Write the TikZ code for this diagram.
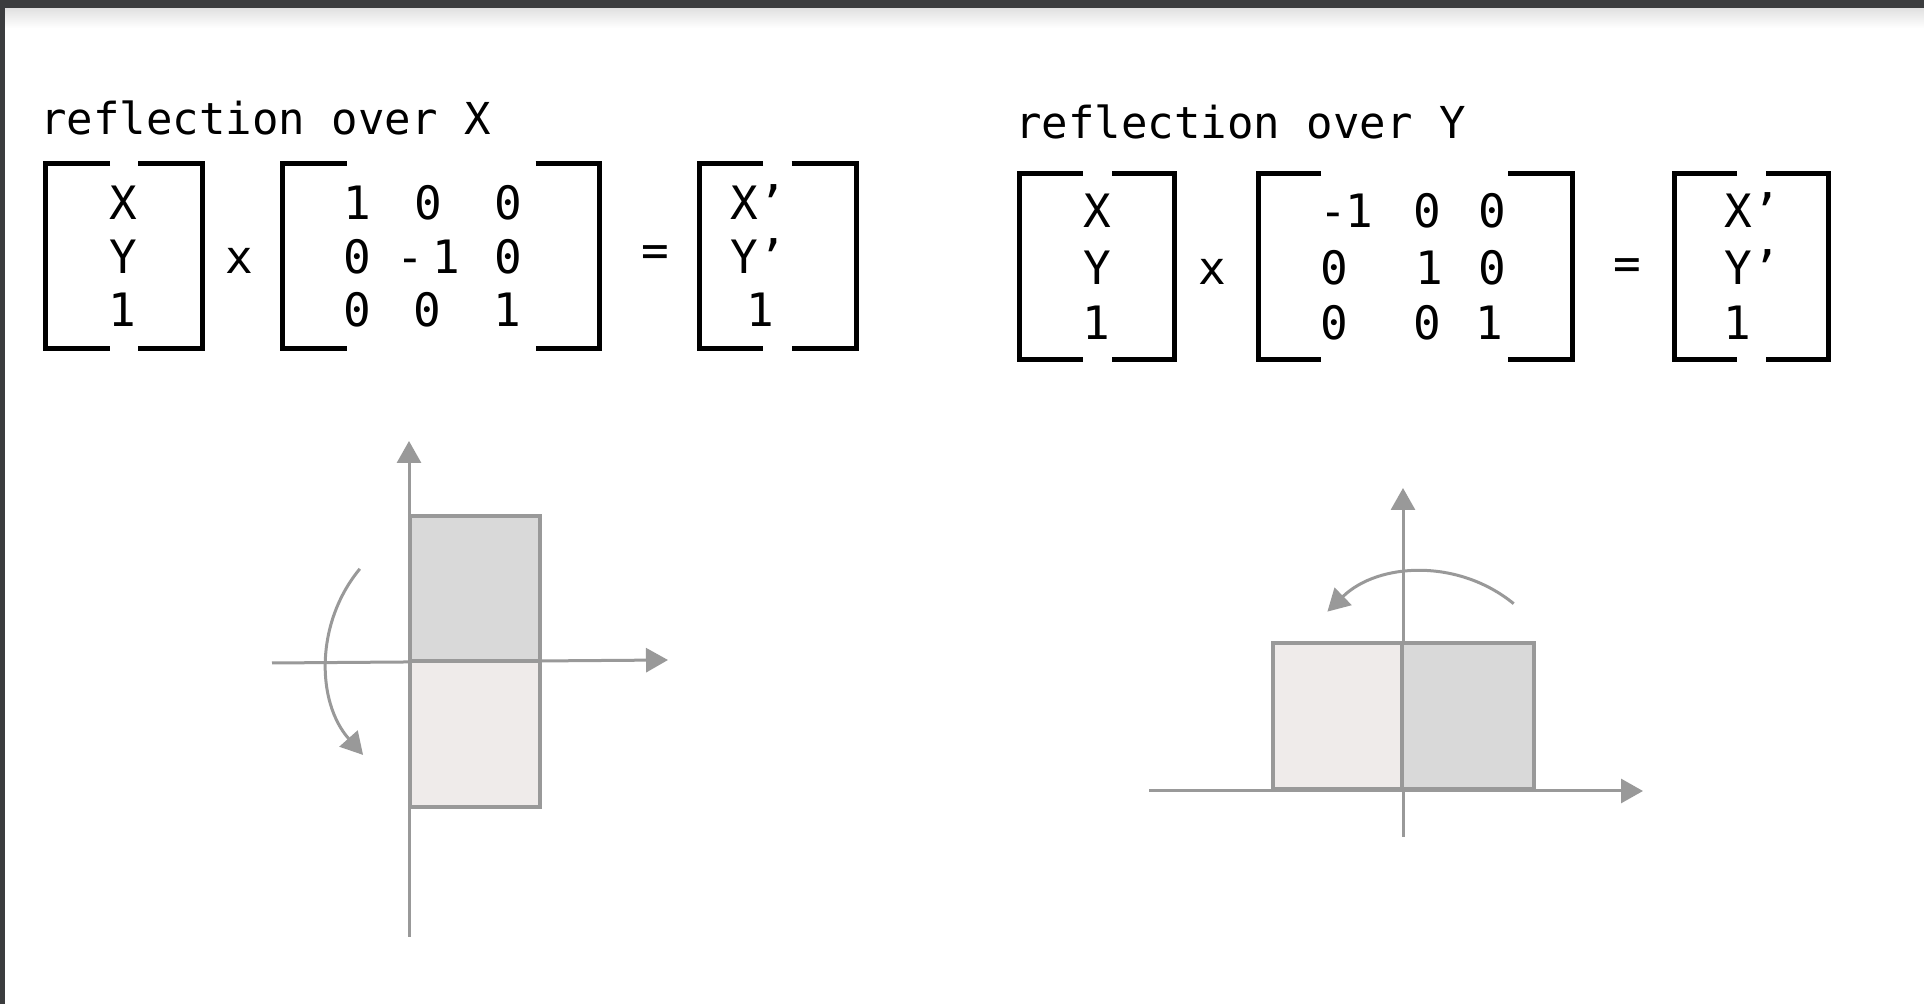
\documentclass[tikz,border=0pt]{standalone}
\usepackage{fontspec}
\newfontfamily\mono{DejaVu Sans Mono}
\usetikzlibrary{arrows.meta}
\definecolor{axisgray}{HTML}{999999}
\definecolor{darkfill}{HTML}{D9D9D9}
\definecolor{lightfill}{HTML}{EFEBEA}
\definecolor{framecol}{HTML}{3B3C3E}
\tikzset{
  brk/.style={line width=2.5pt, draw=black, line join=miter},
  tok/.style={font=\mono\fontsize{23pt}{23pt}\selectfont, anchor=base, inner sep=0pt},
  optok/.style={font=\mono\fontsize{23pt}{23pt}\selectfont, anchor=center, inner sep=0pt},
  ttl/.style={font=\mono\fontsize{22pt}{22pt}\selectfont, anchor=base west, inner sep=0pt},
  axis/.style={line width=1.5pt, draw=axisgray, -{Triangle[length=11pt,width=12pt]}},
  box/.style={draw=axisgray, line width=2pt},
  rot/.style={line width=1.5pt, draw=axisgray, -{Triangle[length=11pt,width=12pt]}},
}
\begin{document}
\begin{tikzpicture}[x=0.5pt,y=-0.5pt]
\useasboundingbox (0,0) rectangle (1924,1004);
\fill[white] (0,0) rectangle (1924,1004);
\shade[top color=black!12, bottom color=white] (0,8) rectangle (1924,28);
\fill[framecol] (0,0) rectangle (1924,8);
\fill[framecol] (0,0) rectangle (5,1004);

% titles
\node[ttl] (t1) at (40,135) {reflection over X};
\node[ttl] (t2) at (1015,139) {reflection over Y};

% ---------- left panel equation ----------
\draw[brk] (110,163.5) -- (45.5,163.5) -- (45.5,348.5) -- (110,348.5);
\draw[brk] (138.3,163.5) -- (202.5,163.5) -- (202.5,348.5) -- (138.3,348.5);
\node[tok] (av1) at (123,220) {X};
\node[tok] (av2) at (123,274) {Y};
\node[tok] (av3) at (122,327) {1};
\node[tok] (amul) at (239,274) {x};

\draw[brk] (346.7,163.5) -- (282.5,163.5) -- (282.5,348.5) -- (346.7,348.5);
\draw[brk] (535.6,163.5) -- (599,163.5) -- (599,348.5) -- (535.6,348.5);
\node[tok] (am11) at (357,220) {1};
\node[tok] (am12) at (428,220) {0};
\node[tok] (am13) at (508,220) {0};
\node[tok] (am21) at (357,274) {0};
\node[tok] (am22a) at (410,274) {-};
\node[tok] (am22b) at (446,274) {1};
\node[tok] (am23) at (508,274) {0};
\node[tok] (am31) at (357,327) {0};
\node[tok] (am32) at (427,327) {0};
\node[tok] (am33) at (507,327) {1};

\node[optok] (aeq) at (655,256) {=};

\draw[brk] (763,163.5) -- (699.5,163.5) -- (699.5,348.5) -- (763,348.5);
\draw[brk] (791.7,163.5) -- (856.5,163.5) -- (856.5,348.5) -- (791.7,348.5);
\node[tok] (ar1) at (758,220) {X’};
\node[tok] (ar2) at (758,274) {Y’};
\node[tok] (ar3) at (760,327) {1};

% ---------- right panel equation ----------
\draw[brk] (1082.5,173.7) -- (1019,173.7) -- (1019,359.5) -- (1082.5,359.5);
\draw[brk] (1112,173.7) -- (1174,173.7) -- (1174,359.5) -- (1112,359.5);
\node[tok] (bv1) at (1097,228) {X};
\node[tok] (bv2) at (1097,285) {Y};
\node[tok] (bv3) at (1096,340) {1};
\node[tok] (bmul) at (1212,285) {x};

\draw[brk] (1321,173.7) -- (1258,173.7) -- (1258,359.5) -- (1321,359.5);
\draw[brk] (1508,173.7) -- (1572,173.7) -- (1572,359.5) -- (1508,359.5);
\node[tok] (bm11a) at (1333,228) {-};
\node[tok] (bm11b) at (1359.5,228) {1};
\node[tok] (bm12) at (1427,228) {0};
\node[tok] (bm13) at (1492,228) {0};
\node[tok] (bm21) at (1334,285) {0};
\node[tok] (bm22) at (1429,285) {1};
\node[tok] (bm23) at (1492,285) {0};
\node[tok] (bm31) at (1334,340) {0};
\node[tok] (bm32) at (1427,340) {0};
\node[tok] (bm33) at (1489,340) {1};

\node[optok] (beq) at (1627,269) {=};

\draw[brk] (1737,173.7) -- (1674,173.7) -- (1674,359.5) -- (1737,359.5);
\draw[brk] (1766,173.7) -- (1828,173.7) -- (1828,359.5) -- (1766,359.5);
\node[tok] (br1) at (1752,228) {X’};
\node[tok] (br2) at (1752,285) {Y’};
\node[tok] (br3) at (1737,340) {1};

% ---------- left diagram ----------
\coordinate (ayb) at (409,937);
\coordinate (ayt) at (409,441);
\coordinate (axl) at (272,663);
\coordinate (axr) at (668,660);
\draw[axis] (ayb) -- (ayt);
\draw[axis] (axl) -- (axr);
\draw[box, fill=darkfill] (410,516) rectangle (540,661);
\draw[box, fill=lightfill] (410,661) rectangle (540,807);
\coordinate (ac) at (470,660);
\draw[rot] ([shift={(219.6:143)}]ac) arc[start angle=219.6, end angle=138.4, radius=143];

% ---------- right diagram ----------
\coordinate (byb) at (1403,837);
\coordinate (byt) at (1403,488);
\coordinate (bxl) at (1149,791);
\coordinate (bxr) at (1643,791);
\draw[axis] (byb) -- (byt);
\draw[axis] (bxl) -- (bxr);
\draw[box, fill=lightfill] (1272.5,643.3) rectangle (1402,789.3);
\draw[box, fill=darkfill] (1402,643.3) rectangle (1534.3,789.3);
\coordinate (bc) at (1425,712);
\draw[rot] ([shift={(309.3:140)}]bc) arc[start angle=309.3, end angle=225.8, radius=140];
\end{tikzpicture}
\end{document}
